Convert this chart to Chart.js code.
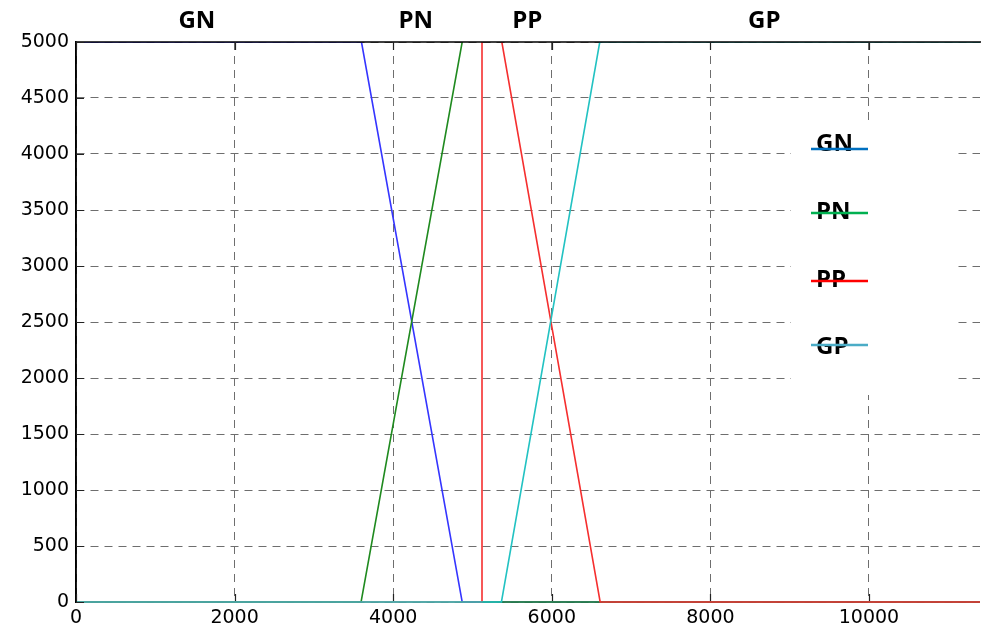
<!DOCTYPE html>
<html>
<head>
<meta charset="utf-8">
<script src="https://cdn.jsdelivr.net/npm/chart.js@4/dist/chart.umd.min.js"></script>
<style>
  html, body { margin: 0; padding: 0; background: #fff; }
  #wrap { width: 981px; height: 632px; position: relative; }
</style>
</head>
<body>
<div id="wrap"><canvas id="chart"></canvas></div>
<script>
// ---- data ----
const seriesNames = ["GN", "PN", "PP", "GP"];

const gnX = [0, 3600, 4870, 11400];
const gnY = [5000, 5000, 0, 0];

const pnX = [0, 3595, 4870, 5120, 5120, 11400];
const pnY = [0, 0, 5000, 5980, 0, 0];

const ppX = [0, 5120, 5120, 5370, 6610, 11400];
const ppY = [0, 0, 6000, 5000, 0, 0];

const gpX = [0, 5365, 6605, 11400];
const gpY = [0, 0, 5000, 5000];

// labels written above the plot, at these x values
const topLabels = ["GN", "PN", "PP", "GP"];
const topLabelX = [1525, 4285, 5690, 8680];

const xTicks = [0, 2000, 4000, 6000, 8000, 10000];
const yTicks = [0, 500, 1000, 1500, 2000, 2500, 3000, 3500, 4000, 4500, 5000];
const xMin = 0, xMax = 11400;
const yMin = 0, yMax = 5000;

const lineColors = ["#3535ff", "#1f8a1f", "#f52f2f", "#22c2c2"];
const legendColors = ["#0070c0", "#00b050", "#ff0000", "#4bacc6"];

const zip = (xs, ys) => xs.map((x, i) => ({ x, y: ys[i] }));

const datasets = [
  [gnX, gnY],
  [pnX, pnY],
  [ppX, ppY],
  [gpX, gpY],
].map(([xs, ys], i) => ({
  label: seriesNames[i],
  data: zip(xs, ys),
  borderColor: lineColors[i],
  borderWidth: 1.6,
  pointRadius: 0,
  tension: 0,
  xAxisID: "x",
  order: 3 - i, // later series drawn on top, as in the original
  clip: { left: 1, top: 0, right: 2, bottom: 3 },
  // the PN drop sits under the PP jump; keep it out of sight
  segment: i === 1 ? {
    borderColor: (c) => (c.p0.parsed.x === c.p1.parsed.x ? "rgba(0,0,0,0)" : undefined),
  } : undefined,
}));

const LABEL_FONT = { family: "'Open Sans', sans-serif", size: 24, weight: "bold" };
const TICK_FONT = { family: "'DejaVu Sans', sans-serif", size: 19 };

// top/left frame and small inward tick marks drawn over the data
const framePlugin = {
  id: "frame",
  afterDatasetsDraw(chart) {
    const { ctx, chartArea: a, scales } = chart;
    ctx.save();
    ctx.strokeStyle = "#000";
    ctx.lineWidth = 1.5;
    ctx.beginPath();
    ctx.moveTo(a.left, a.bottom + 1);
    ctx.lineTo(a.left, a.top);
    ctx.lineTo(a.right + 2, a.top);
    ctx.stroke();
    ctx.lineWidth = 1.2;
    ctx.strokeStyle = "#222";
    ctx.beginPath();
    scales.x.ticks.forEach((t) => {
      const px = Math.round(scales.x.getPixelForValue(t.value)) + 0.5;
      ctx.moveTo(px, a.bottom - 1);
      ctx.lineTo(px, a.bottom - 8);
      ctx.moveTo(px, a.top);
      ctx.lineTo(px, a.top + 8);
    });
    scales.y.ticks.forEach((t) => {
      const py = Math.round(scales.y.getPixelForValue(t.value)) + 0.5;
      ctx.moveTo(a.left, py);
      ctx.lineTo(a.left + 8, py);
    });
    ctx.stroke();
    ctx.restore();
  },
};

// legend sitting inside the plot on a white patch
const legendPlugin = {
  id: "insideLegend",
  afterDraw(chart) {
    const { ctx } = chart;
    ctx.save();
    ctx.fillStyle = "#fff";
    ctx.fillRect(791, 121, 162, 274);
    ctx.font = `bold ${LABEL_FONT.size}px ${LABEL_FONT.family}`;
    ctx.textAlign = "left";
    ctx.textBaseline = "middle";
    const textY = [144, 212, 280, 347];
    const lineY = [149, 213, 281, 345];
    seriesNames.forEach((name, i) => {
      ctx.fillStyle = "#000";
      ctx.fillText(name, 816, textY[i]);
      ctx.strokeStyle = legendColors[i];
      ctx.lineWidth = 2.5;
      ctx.beginPath();
      ctx.moveTo(811, lineY[i]);
      ctx.lineTo(868, lineY[i]);
      ctx.stroke();
    });
    ctx.restore();
  },
};

const gridStyle = { color: "#6e6e6e", lineWidth: 1, drawTicks: false };

new Chart(document.getElementById("chart"), {
  type: "line",
  data: { datasets },
  options: {
    responsive: true,
    maintainAspectRatio: false,
    animation: false,
    layout: { padding: { top: 0, left: 0, right: 1, bottom: 0 } },
    plugins: { legend: { display: false }, tooltip: { enabled: false } },
    scales: {
      x: {
        type: "linear",
        min: xMin,
        max: xMax,
        border: { display: false, dash: [8, 6] },
        grid: gridStyle,
        afterFit: (s) => { s.height = 30; },
        afterBuildTicks: (s) => { s.ticks = xTicks.map((v) => ({ value: v })); },
        ticks: {
          autoSkip: false,
          maxRotation: 0,
          padding: 5,
          color: "#000",
          font: TICK_FONT,
          callback: (v) => String(v),
        },
      },
      x2: {
        type: "linear",
        position: "top",
        min: xMin,
        max: xMax,
        grid: { display: false },
        border: { display: false },
        afterFit: (s) => { s.height = 42; },
        afterBuildTicks: (s) => { s.ticks = topLabelX.map((v) => ({ value: v })); },
        ticks: {
          autoSkip: false,
          maxRotation: 0,
          padding: -2,
          color: "#000",
          font: LABEL_FONT,
          callback: (v, i) => topLabels[i],
        },
      },
      y: {
        min: yMin,
        max: yMax,
        border: { display: true, color: "#000", width: 1.5, dash: [8, 6] },
        grid: gridStyle,
        afterFit: (s) => { s.width = 76; },
        afterBuildTicks: (s) => { s.ticks = yTicks.map((v) => ({ value: v })); },
        ticks: {
          padding: 7,
          color: "#000",
          font: TICK_FONT,
          callback: (v) => String(v),
        },
      },
    },
  },
  plugins: [framePlugin, legendPlugin],
});
</script>
</body>
</html>
